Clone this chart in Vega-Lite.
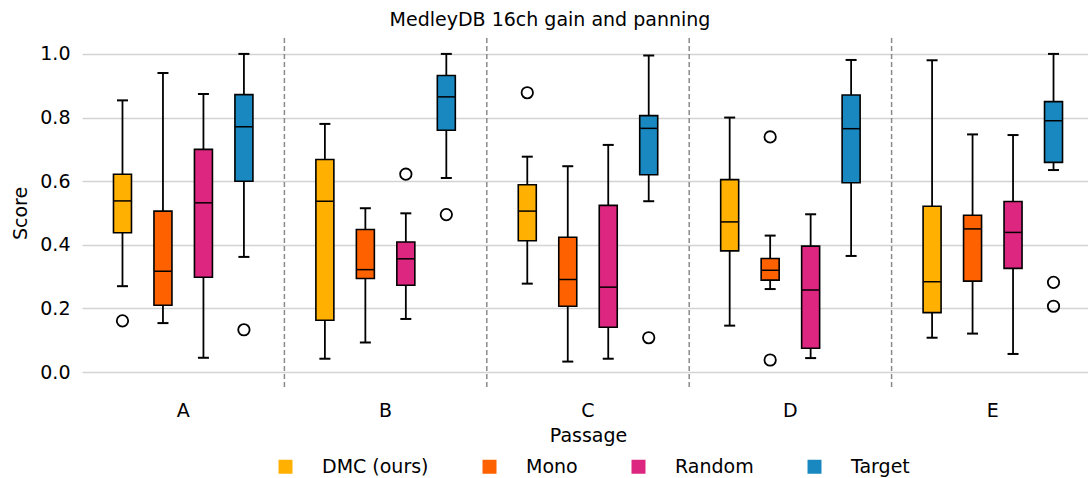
{
  "$schema": "https://vega.github.io/schema/vega-lite/v6.json",
  "width": 1006,
  "height": 350,
  "autosize": {"type": "none"},
  "padding": {"left": 82, "top": 38, "right": 0, "bottom": 90},
  "config": {
    "font": "DejaVu Sans",
    "view": {"stroke": null},
    "axis": {"labelColor": "#000000", "titleColor": "#000000", "labelFontSize": 19, "titleFontSize": 19, "titleFontWeight": "normal"},
    "legend": {"labelColor": "#000000"}
  },
  "title": {"text": "MedleyDB 16ch gain and panning", "fontSize": 19, "fontWeight": "normal", "color": "#000000", "dx": -35, "dy": 19, "offset": 11, "baseline": "alphabetic", "anchor": "middle"},
  "datasets": {
    "boxes": [
      {"passage": "A", "system": "DMC (ours)", "lower": 0.270, "q1": 0.438, "median": 0.538, "q3": 0.622, "upper": 0.854},
      {"passage": "A", "system": "Mono", "lower": 0.154, "q1": 0.210, "median": 0.317, "q3": 0.506, "upper": 0.940},
      {"passage": "A", "system": "Random", "lower": 0.045, "q1": 0.298, "median": 0.532, "q3": 0.700, "upper": 0.874},
      {"passage": "A", "system": "Target", "lower": 0.362, "q1": 0.600, "median": 0.771, "q3": 0.872, "upper": 1.000},
      {"passage": "B", "system": "DMC (ours)", "lower": 0.042, "q1": 0.163, "median": 0.537, "q3": 0.668, "upper": 0.780},
      {"passage": "B", "system": "Mono", "lower": 0.093, "q1": 0.294, "median": 0.322, "q3": 0.448, "upper": 0.515},
      {"passage": "B", "system": "Random", "lower": 0.167, "q1": 0.273, "median": 0.356, "q3": 0.409, "upper": 0.499},
      {"passage": "B", "system": "Target", "lower": 0.610, "q1": 0.760, "median": 0.865, "q3": 0.932, "upper": 1.000},
      {"passage": "C", "system": "DMC (ours)", "lower": 0.278, "q1": 0.413, "median": 0.506, "q3": 0.589, "upper": 0.677},
      {"passage": "C", "system": "Mono", "lower": 0.033, "q1": 0.207, "median": 0.291, "q3": 0.424, "upper": 0.647},
      {"passage": "C", "system": "Random", "lower": 0.042, "q1": 0.141, "median": 0.267, "q3": 0.524, "upper": 0.714},
      {"passage": "C", "system": "Target", "lower": 0.537, "q1": 0.620, "median": 0.766, "q3": 0.806, "upper": 0.995},
      {"passage": "D", "system": "DMC (ours)", "lower": 0.146, "q1": 0.381, "median": 0.472, "q3": 0.605, "upper": 0.800},
      {"passage": "D", "system": "Mono", "lower": 0.261, "q1": 0.289, "median": 0.320, "q3": 0.357, "upper": 0.429},
      {"passage": "D", "system": "Random", "lower": 0.044, "q1": 0.075, "median": 0.258, "q3": 0.396, "upper": 0.496},
      {"passage": "D", "system": "Target", "lower": 0.365, "q1": 0.595, "median": 0.765, "q3": 0.871, "upper": 0.981},
      {"passage": "E", "system": "DMC (ours)", "lower": 0.108, "q1": 0.187, "median": 0.284, "q3": 0.521, "upper": 0.980},
      {"passage": "E", "system": "Mono", "lower": 0.121, "q1": 0.286, "median": 0.450, "q3": 0.493, "upper": 0.747},
      {"passage": "E", "system": "Random", "lower": 0.057, "q1": 0.326, "median": 0.439, "q3": 0.536, "upper": 0.745},
      {"passage": "E", "system": "Target", "lower": 0.635, "q1": 0.659, "median": 0.790, "q3": 0.850, "upper": 1.000}
    ],
    "outliers": [
      {"passage": "A", "system": "DMC (ours)", "score": 0.161},
      {"passage": "A", "system": "Target", "score": 0.133},
      {"passage": "B", "system": "Random", "score": 0.622},
      {"passage": "B", "system": "Target", "score": 0.495},
      {"passage": "C", "system": "DMC (ours)", "score": 0.878},
      {"passage": "C", "system": "Target", "score": 0.108},
      {"passage": "D", "system": "Mono", "score": 0.739},
      {"passage": "D", "system": "Mono", "score": 0.038},
      {"passage": "E", "system": "Target", "score": 0.282},
      {"passage": "E", "system": "Target", "score": 0.207}
    ],
    "seps": [
      {"passage": "B"}, {"passage": "C"}, {"passage": "D"}, {"passage": "E"}
    ]
  },
  "layer": [
    {
      "data": {"name": "boxes"},
      "mark": {"type": "rule", "color": "#000000", "strokeWidth": 1.8},
      "encoding": {
        "x": {"field": "passage", "type": "nominal", "sort": ["A", "B", "C", "D", "E"],
              "scale": {"domain": ["A", "B", "C", "D", "E"], "range": [0, 1012], "paddingInner": 0, "paddingOuter": 0},
              "axis": {"title": "Passage", "labelAngle": 0, "ticks": false, "domain": false, "labelPadding": 13, "titlePadding": 6}},
        "xOffset": {"field": "system", "type": "nominal", "scale": {"domain": ["DMC (ours)", "Mono", "Random", "Target"], "paddingInner": 0, "paddingOuter": 0.5}},
        "y": {"field": "lower", "type": "quantitative",
              "scale": {"domain": [-0.05, 1.05], "nice": false, "zero": false},
              "axis": {"title": "Score", "values": [0, 0.2, 0.4, 0.6, 0.8, 1.0], "format": ".1f", "ticks": false, "domain": false, "labelPadding": 12, "titlePadding": 9, "gridColor": "#d3d3d3", "gridWidth": 1.6}},
        "y2": {"field": "upper"}
      }
    },
    {
      "data": {"name": "seps"},
      "mark": {"type": "rule", "color": "#8a8a8a", "strokeWidth": 1.5, "strokeDash": [5, 3]},
      "encoding": {
        "x": {"field": "passage", "type": "nominal", "bandPosition": 0}
      }
    },
    {
      "data": {"name": "boxes"},
      "mark": {"type": "bar", "width": 18, "stroke": "#000000", "strokeWidth": 1.6, "fillOpacity": 1, "opacity": 1},
      "encoding": {
        "x": {"field": "passage", "type": "nominal"},
        "xOffset": {"field": "system", "type": "nominal"},
        "y": {"field": "q1", "type": "quantitative"},
        "y2": {"field": "q3"},
        "color": {"field": "system", "type": "nominal",
                  "scale": {"domain": ["DMC (ours)", "Mono", "Random", "Target"], "range": ["#ffb000", "#fe6100", "#dc267f", "#1a88c0"]},
                  "legend": {"title": null, "orient": "none", "direction": "horizontal", "legendX": 194, "legendY": 419, "padding": 0,
                             "symbolType": "square", "symbolSize": 196, "symbolStrokeWidth": 0, "symbolOpacity": 1,
                             "labelFontSize": 19, "labelOffset": 27, "columnPadding": 51, "labelLimit": 300}}
      }
    },
    {
      "data": {"name": "boxes"},
      "mark": {"type": "tick", "color": "#000000", "size": 18, "thickness": 1.5, "opacity": 1, "orient": "horizontal"},
      "encoding": {
        "x": {"field": "passage", "type": "nominal"},
        "xOffset": {"field": "system", "type": "nominal"},
        "y": {"field": "median", "type": "quantitative"}
      }
    },
    {
      "data": {"name": "boxes"},
      "mark": {"type": "tick", "color": "#000000", "size": 11, "thickness": 2, "opacity": 1, "orient": "horizontal"},
      "encoding": {
        "x": {"field": "passage", "type": "nominal"},
        "xOffset": {"field": "system", "type": "nominal"},
        "y": {"field": "lower", "type": "quantitative"}
      }
    },
    {
      "data": {"name": "boxes"},
      "mark": {"type": "tick", "color": "#000000", "size": 11, "thickness": 2, "opacity": 1, "orient": "horizontal"},
      "encoding": {
        "x": {"field": "passage", "type": "nominal"},
        "xOffset": {"field": "system", "type": "nominal"},
        "y": {"field": "upper", "type": "quantitative"}
      }
    },
    {
      "data": {"name": "outliers"},
      "mark": {"type": "point", "shape": "circle", "filled": false, "stroke": "#000000", "strokeWidth": 1.8, "size": 130, "opacity": 1},
      "encoding": {
        "x": {"field": "passage", "type": "nominal"},
        "xOffset": {"field": "system", "type": "nominal"},
        "y": {"field": "score", "type": "quantitative"}
      }
    }
  ]
}
